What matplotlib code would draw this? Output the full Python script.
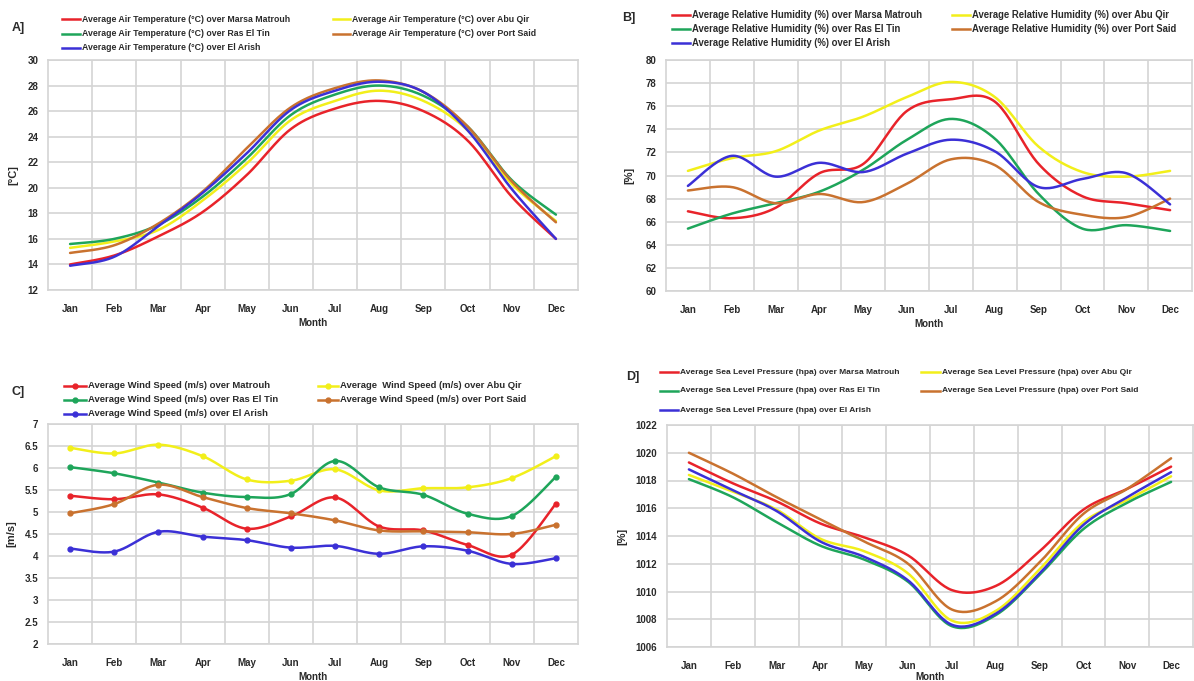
import numpy as np
import matplotlib
matplotlib.use("Agg")
import matplotlib.pyplot as plt
from matplotlib.lines import Line2D

months = ["Jan", "Feb", "Mar", "Apr", "May", "Jun", "Jul", "Aug", "Sep", "Oct", "Nov", "Dec"]

# Panel A: air temperature (°C)
temp_mm = [14.0, 14.7, 16.2, 18.1, 21.0, 24.6, 26.2, 26.8, 26.0, 23.7, 19.3, 16.0]
temp_aq = [15.3, 15.8, 16.7, 19.0, 21.9, 25.3, 26.8, 27.6, 26.8, 24.5, 20.3, 17.4]
temp_rt = [15.6, 16.0, 17.1, 19.3, 22.3, 25.7, 27.3, 28.0, 27.2, 24.8, 20.6, 17.9]
temp_ps = [14.9, 15.5, 17.2, 19.7, 23.1, 26.3, 27.8, 28.4, 27.5, 24.8, 20.5, 17.3]
temp_ea = [13.9, 14.6, 17.0, 19.6, 22.7, 26.1, 27.6, 28.3, 27.5, 24.5, 19.9, 16.0]

# Panel B: relative humidity (%)
rh_mm = [66.9, 66.3, 67.2, 70.2, 71.0, 75.6, 76.6, 76.4, 71.0, 68.2, 67.6, 67.0]
rh_aq = [70.4, 71.5, 72.1, 73.9, 75.1, 76.8, 78.1, 76.8, 72.5, 70.3, 69.9, 70.4]
rh_rt = [65.4, 66.7, 67.6, 68.6, 70.5, 73.1, 74.9, 73.2, 68.4, 65.4, 65.7, 65.2]
rh_ps = [68.7, 69.0, 67.6, 68.4, 67.7, 69.3, 71.4, 70.9, 67.7, 66.6, 66.4, 68.0]
rh_ea = [69.1, 71.7, 69.9, 71.1, 70.3, 71.9, 73.1, 72.1, 69.0, 69.7, 70.2, 67.5]

# Panel C: wind speed (m/s)
ws_mm = [5.37, 5.29, 5.40, 5.10, 4.62, 4.90, 5.33, 4.67, 4.58, 4.25, 4.03, 5.19]
ws_aq = [6.46, 6.33, 6.53, 6.27, 5.74, 5.71, 5.97, 5.49, 5.54, 5.56, 5.77, 6.27]
ws_rt = [6.02, 5.88, 5.67, 5.44, 5.34, 5.41, 6.16, 5.56, 5.39, 4.96, 4.91, 5.80]
ws_ps = [4.97, 5.18, 5.62, 5.34, 5.09, 4.97, 4.81, 4.58, 4.56, 4.54, 4.50, 4.71]
ws_ea = [4.17, 4.10, 4.55, 4.44, 4.36, 4.19, 4.23, 4.05, 4.22, 4.12, 3.82, 3.95]

# Panel D: sea level pressure (hPa)
slp_mm = [1019.3, 1017.8, 1016.5, 1014.9, 1013.9, 1012.6, 1010.1, 1010.4, 1012.9, 1015.9, 1017.4, 1019.0]
slp_aq = [1018.4, 1017.2, 1015.9, 1013.8, 1012.9, 1011.3, 1007.9, 1008.6, 1011.6, 1015.0, 1016.6, 1018.3]
slp_rt = [1018.1, 1016.8, 1015.0, 1013.3, 1012.3, 1010.7, 1007.5, 1008.3, 1011.2, 1014.5, 1016.4, 1017.9]
slp_ps = [1020.0, 1018.5, 1016.8, 1015.2, 1013.6, 1012.0, 1008.7, 1009.3, 1012.1, 1015.6, 1017.4, 1019.6]
slp_ea = [1018.8, 1017.3, 1015.8, 1013.6, 1012.5, 1010.8, 1007.6, 1008.4, 1011.3, 1014.8, 1016.8, 1018.6]

RED = "#e8232a"
YEL = "#f2ef1a"
GRN = "#1ea55a"
ORA = "#c9722f"
BLU = "#3b30d6"
colors = [RED, YEL, GRN, ORA, BLU]

plt.rcParams["font.family"] = ["Liberation Sans", "DejaVu Sans"]

W, H = 1194, 681
fig = plt.figure(figsize=(W / 100, H / 100), dpi=100)
fig.patch.set_facecolor("white")

TXT = "#2a2a2a"


def smooth(y, n=24):
    """Excel-style smoothed line through the data points (Bezier)."""
    x = np.arange(len(y), dtype=float)
    y = np.asarray(y, dtype=float)
    P = np.column_stack([x, y])
    out = []
    m = len(P)
    for i in range(m - 1):
        p0 = P[i - 1] if i > 0 else P[i]
        p1 = P[i]
        p2 = P[i + 1]
        p3 = P[i + 2] if i + 2 < m else P[i + 1]
        c1 = p1 + (p2 - p0) / 6.0
        c2 = p2 - (p3 - p1) / 6.0
        t = np.linspace(0, 1, n, endpoint=(i == m - 2))[:, None]
        b = ((1 - t) ** 3) * p1 + 3 * ((1 - t) ** 2) * t * c1 + 3 * (1 - t) * t ** 2 * c2 + t ** 3 * p2
        out.append(b)
    out = np.vstack(out)
    return out[:, 0], out[:, 1]


def rect(l, r, t, b):
    return [l / W, 1 - b / H, (r - l) / W, (b - t) / H]


def make_axes(box, ylim, yticks, yticklabels, ylabel, ylab_x, month_pad=3):
    ax = fig.add_axes(rect(*box))
    ax.set_xlim(-0.5, 11.5)
    ax.set_ylim(*ylim)
    ax.set_yticks(yticks)
    ax.set_yticklabels(yticklabels)
    ax.set_xticks(range(12))
    ax.set_xticklabels(months)
    ax.set_xticks(np.arange(0.5, 11.5, 1.0), minor=True)
    ax.grid(True, which="major", axis="y", color="#d4d4d4", lw=1.2)
    ax.grid(True, which="minor", axis="x", color="#d4d4d4", lw=1.2)
    ax.tick_params(which="both", length=0)
    ax.tick_params(axis="x", pad=10, labelsize=7, colors=TXT)
    ax.tick_params(axis="y", pad=7, labelsize=7, colors=TXT)
    for lab in ax.get_xticklabels() + ax.get_yticklabels():
        lab.set_fontweight("bold")
    for s in ax.spines.values():
        s.set_color("#d4d4d4")
        s.set_linewidth(1.2)
    ax.set_axisbelow(True)
    ax.set_xlabel("Month", fontsize=7, fontweight="bold", color=TXT, labelpad=month_pad)
    ax.set_ylabel(ylabel, fontsize=8, fontweight="bold", color=TXT)
    ax.yaxis.set_label_coords(ylab_x, 0.5)
    return ax


def legend(labels, col_x, rows_y, line_len, markers=False, fs=6.2):
    order = [(0, 0, 0), (1, 1, 0), (2, 0, 1), (3, 1, 1), (4, 0, 2)]
    for idx, col, row in order:
        x0 = col_x[col]
        ll = line_len[col]
        y = H - rows_y[row]
        fig.add_artist(Line2D([x0 / W, (x0 + ll) / W], [y / H, y / H],
                              color=colors[idx], lw=1.8, transform=fig.transFigure))
        if markers:
            fig.add_artist(Line2D([(x0 + ll / 2) / W], [y / H], color=colors[idx],
                                  marker="o", ms=3.5, lw=0, transform=fig.transFigure))
        fig.text((x0 + ll + 2) / W, y / H, labels[idx], fontsize=fs,
                 fontweight="bold", color=TXT, va="center", ha="left")


def plot_series(ax, series, markers=False):
    for vals, c in zip(series, colors):
        xs, ys = smooth(vals)
        ax.plot(xs, ys, color=c, lw=1.8, solid_capstyle="round", zorder=3)
        if markers:
            ax.plot(range(12), vals, "o", color=c, ms=3.5, zorder=4)


# ---------- Panel A ----------
axA = make_axes((48, 578, 60, 290), (12, 30), range(12, 31, 2),
                [str(v) for v in range(12, 31, 2)], "[°C]", -0.055)
plot_series(axA, [temp_mm, temp_aq, temp_rt, temp_ps, temp_ea])
fig.text(12 / W, 1 - 28 / H, "A]", fontsize=9, fontweight="bold", va="center", color=TXT)
legend(["Average Air Temperature (°C) over Marsa Matrouh",
        "Average Air Temperature (°C) over Abu Qir",
        "Average Air Temperature (°C) over Ras El Tin",
        "Average Air Temperature (°C) over Port Said",
        "Average Air Temperature (°C) over El Arish"],
       [62, 333], [19, 34, 48], [18, 17], fs=6.35)

# ---------- Panel B ----------
axB = make_axes((666, 1192, 60, 291), (60, 80), range(60, 81, 2),
                [str(v) for v in range(60, 81, 2)], "[%]", -0.06)
plot_series(axB, [rh_mm, rh_aq, rh_rt, rh_ps, rh_ea])
fig.text(622 / W, 1 - 18 / H, "B]", fontsize=9, fontweight="bold", va="center", color=TXT)
legend(["Average Relative Humidity (%) over Marsa Matrouh",
        "Average Relative Humidity (%) over Abu Qir",
        "Average Relative Humidity (%) over Ras El Tin",
        "Average Relative Humidity (%) over Port Said",
        "Average Relative Humidity (%) over El Arish"],
       [672, 952], [15, 29, 43], [18, 18], fs=6.85)

# ---------- Panel C ----------
cticks = np.arange(2, 7.01, 0.5)
axC = make_axes((48, 578, 424, 644), (2, 7), cticks,
                [("%g" % v) for v in cticks], "[m/s]", -0.06)
plot_series(axC, [ws_mm, ws_aq, ws_rt, ws_ps, ws_ea], markers=True)
fig.text(12 / W, 1 - 392 / H, "C]", fontsize=9, fontweight="bold", va="center", color=TXT)
legend(["Average Wind Speed (m/s) over Matrouh",
        "Average  Wind Speed (m/s) over Abu Qir",
        "Average Wind Speed (m/s) over Ras El Tin",
        "Average Wind Speed (m/s) over Port Said",
        "Average Wind Speed (m/s) over El Arish"],
       [64, 318], [386, 400, 414], [22, 20], markers=True, fs=6.8)

# ---------- Panel D ----------
axD = make_axes((667, 1193, 425, 647), (1006, 1022), range(1006, 1023, 2),
                [str(v) for v in range(1006, 1023, 2)], "[%]", -0.075, month_pad=1)
plot_series(axD, [slp_mm, slp_aq, slp_rt, slp_ps, slp_ea])
fig.text(626 / W, 1 - 377 / H, "D]", fontsize=9, fontweight="bold", va="center", color=TXT)
legend(["Average Sea Level Pressure (hpa) over Marsa Matrouh",
        "Average Sea Level Pressure (hpa) over Abu Qir",
        "Average Sea Level Pressure (hpa) over Ras El Tin",
        "Average Sea Level Pressure (hpa) over Port Said",
        "Average Sea Level Pressure (hpa) over El Arish"],
       [660, 921], [372, 391, 410], [18, 19], fs=6.0)

fig.savefig("out.png", dpi=100, facecolor="white")
